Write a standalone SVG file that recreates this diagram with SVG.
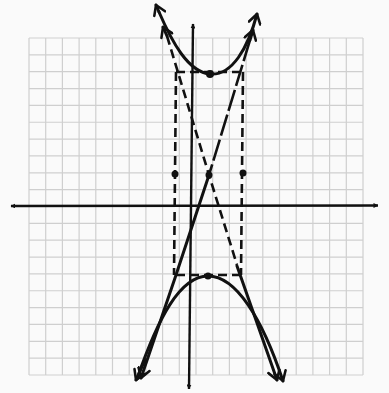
<svg xmlns="http://www.w3.org/2000/svg" width="389" height="393" viewBox="0 0 389 393">
<defs>
<style>
.grid line{stroke:#cfcfcf;stroke-width:1.2}
.ax{stroke:#111;stroke-width:2.4;fill:none}
.crv{stroke:#111;stroke-width:3;fill:none;stroke-linecap:round;stroke-linejoin:round}
.dash{stroke:#111;stroke-width:2.6;fill:none;stroke-dasharray:9 5}
.dot{fill:#111}
</style>
<marker id="ah" viewBox="0 0 10 10" refX="9" refY="5" markerWidth="5" markerHeight="5" orient="auto-start-reverse" markerUnits="userSpaceOnUse">
<path d="M0,0 L10,5 L0,10 Z" fill="#111"/>
</marker>
<marker id="ov" viewBox="0 0 12 12" refX="10" refY="6" markerWidth="14" markerHeight="14" orient="auto" markerUnits="userSpaceOnUse">
<path d="M2,1 L10,6 L2,11" fill="none" stroke="#111" stroke-width="2.2" stroke-linecap="round" stroke-linejoin="round"/>
</marker>
</defs>
<rect width="389" height="393" fill="#fafafa"/>
<g class="grid" id="grid">
<line x1="29" y1="38" x2="29" y2="375"/><line x1="45.7" y1="38" x2="45.7" y2="375"/><line x1="62.4" y1="38" x2="62.4" y2="375"/><line x1="79.1" y1="38" x2="79.1" y2="375"/><line x1="95.8" y1="38" x2="95.8" y2="375"/><line x1="112.5" y1="38" x2="112.5" y2="375"/><line x1="129.2" y1="38" x2="129.2" y2="375"/><line x1="145.9" y1="38" x2="145.9" y2="375"/><line x1="162.6" y1="38" x2="162.6" y2="375"/><line x1="179.3" y1="38" x2="179.3" y2="375"/><line x1="196" y1="38" x2="196" y2="375"/><line x1="212.7" y1="38" x2="212.7" y2="375"/><line x1="229.4" y1="38" x2="229.4" y2="375"/><line x1="246.1" y1="38" x2="246.1" y2="375"/><line x1="262.8" y1="38" x2="262.8" y2="375"/><line x1="279.5" y1="38" x2="279.5" y2="375"/><line x1="296.2" y1="38" x2="296.2" y2="375"/><line x1="312.9" y1="38" x2="312.9" y2="375"/><line x1="329.6" y1="38" x2="329.6" y2="375"/><line x1="346.3" y1="38" x2="346.3" y2="375"/><line x1="363" y1="38" x2="363" y2="375"/>
<line x1="29" y1="38" x2="363" y2="38"/><line x1="29" y1="54.85" x2="363" y2="54.85"/><line x1="29" y1="71.7" x2="363" y2="71.7"/><line x1="29" y1="88.55" x2="363" y2="88.55"/><line x1="29" y1="105.4" x2="363" y2="105.4"/><line x1="29" y1="122.25" x2="363" y2="122.25"/><line x1="29" y1="139.1" x2="363" y2="139.1"/><line x1="29" y1="155.95" x2="363" y2="155.95"/><line x1="29" y1="172.8" x2="363" y2="172.8"/><line x1="29" y1="189.65" x2="363" y2="189.65"/><line x1="29" y1="206.5" x2="363" y2="206.5"/><line x1="29" y1="223.35" x2="363" y2="223.35"/><line x1="29" y1="240.2" x2="363" y2="240.2"/><line x1="29" y1="257.05" x2="363" y2="257.05"/><line x1="29" y1="273.9" x2="363" y2="273.9"/><line x1="29" y1="290.75" x2="363" y2="290.75"/><line x1="29" y1="307.6" x2="363" y2="307.6"/><line x1="29" y1="324.45" x2="363" y2="324.45"/><line x1="29" y1="341.3" x2="363" y2="341.3"/><line x1="29" y1="358.15" x2="363" y2="358.15"/><line x1="29" y1="375" x2="363" y2="375"/>
</g>
<g id="axes">
<line class="ax" x1="11" y1="206" x2="378" y2="205.5" marker-start="url(#ah)" marker-end="url(#ah)"/>
<line class="ax" x1="193" y1="24" x2="189" y2="389" marker-start="url(#ah)" marker-end="url(#ah)"/>
</g>
<g id="connectors">
<path class="dash" d="M176,72 L243,72"/>
<path class="dash" d="M176,275 L241,275"/>
<path class="dash" d="M176,72 L174,275"/>
<path class="dash" d="M243,72 L241,275"/>
<path class="dash" d="M167,36 L209,175 L237,265"/>
<path class="crv" d="M237,266 L277,380" marker-end="url(#ov)"/>
<path class="crv" d="M167,36 L163,27" marker-end="url(#ov)"/>
<path class="dash" d="M250,40 L209,175" style="stroke-dasharray:22 4"/>
<path class="crv" d="M250,40 L253,30" marker-end="url(#ov)"/>
<path class="crv" d="M209,175 L175,278 L141,378" marker-end="url(#ov)"/>
</g>
<g id="upper-branch">
<path class="crv" d="M159,12 C172,42 188,72 210,74 C232,76 248,48 257,14" marker-start="url(#ov)" marker-end="url(#ov)" style="marker-start:none"/>
<path class="crv" d="M159,12 L156,5" marker-end="url(#ov)"/>
</g>
<g id="lower-branch">
<path class="crv" d="M137,379 C158,318 180,276 208,276 C236,276 262,318 283,381" marker-end="url(#ov)"/>
<path class="crv" d="M145,360 L136,380" marker-end="url(#ov)"/>
</g>
<g id="points">
<circle class="dot" cx="210" cy="74" r="4"/>
<circle class="dot" cx="208" cy="276" r="3.5"/>
<circle class="dot" cx="209" cy="175" r="3.5"/>
<circle class="dot" cx="175" cy="174" r="3.5"/>
<circle class="dot" cx="243" cy="173" r="3.5"/>
</g>
</svg>
